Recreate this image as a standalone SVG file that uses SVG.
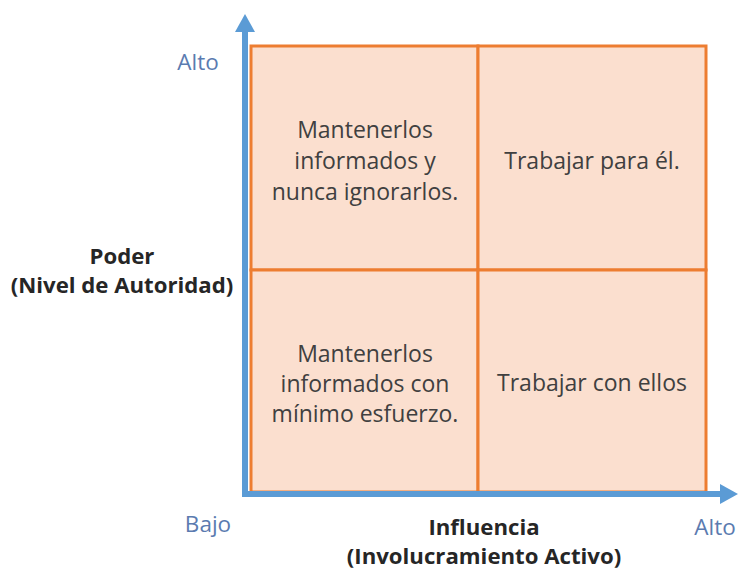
<svg xmlns="http://www.w3.org/2000/svg" width="739" height="571" viewBox="0 0 739 571">
<style>
.q{font-family:"Open Sans","Liberation Sans",sans-serif;font-size:23px;fill:#404040;text-anchor:middle}
.ax{font-family:"Open Sans","Liberation Sans",sans-serif;font-size:22.5px;fill:#5B7BB0;text-anchor:middle}
.t{font-family:"Open Sans","Liberation Sans",sans-serif;font-size:22.2px;font-weight:bold;fill:#262626;text-anchor:middle}
.cell{fill:#FBDFCF;stroke:#ED7D31;stroke-width:3}
.axis{stroke:#5B9BD5;stroke-width:6;fill:none}
</style>
<rect width="739" height="571" fill="#ffffff"/>
<g id="q-tl"><rect class="cell" x="251" y="46" width="227" height="224"/>
<text class="q" x="365" y="138">Mantenerlos</text><text class="q" x="365" y="169">informados y</text><text class="q" x="365" y="200">nunca ignorarlos.</text></g>
<g id="q-tr"><rect class="cell" x="478" y="46" width="228" height="224"/>
<text class="q" x="592" y="169">Trabajar para él.</text></g>
<g id="q-bl"><rect class="cell" x="251" y="270" width="227" height="222"/>
<text class="q" x="365" y="362">Mantenerlos</text><text class="q" x="365" y="392">informados con</text><text class="q" x="365" y="422">mínimo esfuerzo.</text></g>
<g id="q-br"><rect class="cell" x="478" y="270" width="228" height="222"/>
<text class="q" x="592" y="391">Trabajar con ellos</text></g>
<g id="connectors">
<path class="axis" d="M245 497 V30 M242 494 H722"/>
<polygon points="245,14 235,32 255,32" fill="#5B9BD5"/>
<polygon points="738,494 720,484 720,504" fill="#5B9BD5"/>
</g>
<g id="labels">
<text class="ax" x="198" y="70">Alto</text>
<text class="ax" x="208" y="532">Bajo</text>
<text class="ax" x="715" y="535">Alto</text>
<text class="t" x="122" y="264">Poder</text>
<text class="t" x="122" y="293">(Nivel de Autoridad)</text>
<text class="t" x="484" y="535">Influencia</text>
<text class="t" x="484" y="564">(Involucramiento Activo)</text>
</g>
</svg>
